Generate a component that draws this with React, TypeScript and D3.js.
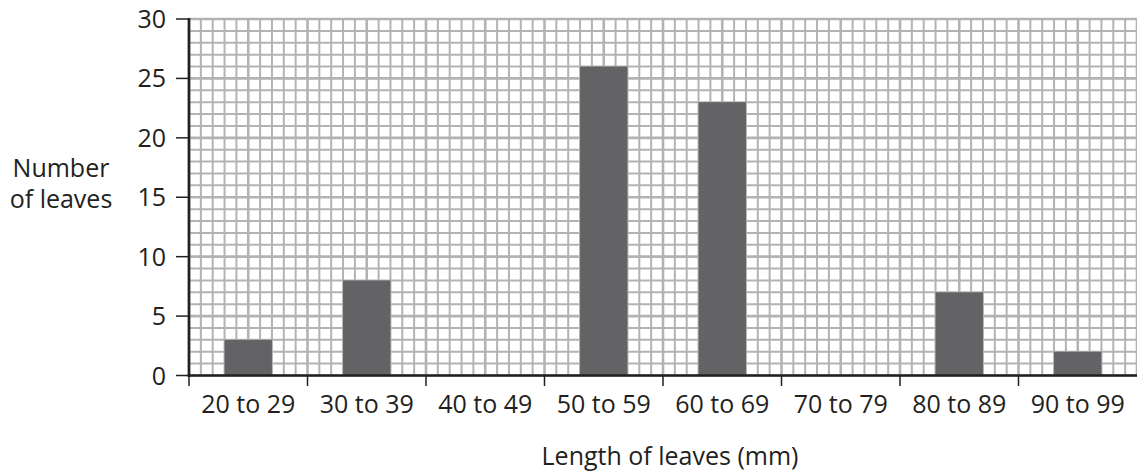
import React from "react";
import * as d3 from "d3";

const categories = ["20 to 29", "30 to 39", "40 to 49", "50 to 59", "60 to 69", "70 to 79", "80 to 89", "90 to 99"];
const values = [3, 8, 0, 26, 23, 0, 7, 2];
const yTicks = [0, 5, 10, 15, 20, 25, 30];
const xTitle = "Length of leaves (mm)";
const yTitle = ["Number", "of leaves"];

const W = 1137;
const H = 475;
const left = 189;
const right = 1137;
const top = 19;
const bottom = 375.5;
const font = "'Open Sans', 'Noto Sans', sans-serif";
const fs = 25;
const ink = "#231f20";

export default function App() {
  const x = d3.scaleBand<string>().domain(categories).range([left, right]).paddingInner(0).paddingOuter(0);
  const y = d3.scaleLinear().domain([0, 30]).range([bottom, top]);
  const bw = x.bandwidth();
  const cellsPerBand = 10;
  const nCellsX = categories.length * cellsPerBand;
  const gx = d3.scaleLinear().domain([0, nCellsX]).range([left, right]);
  const vCells = d3.range(0, nCellsX + 1);
  const hCells = d3.range(0, 31);

  return (
    <svg width={W} height={H} style={{ position: "absolute", left: 0, top: 0, display: "block", background: "#fff" }}>
      <g>
        {hCells.map((v) => (
          <line key={"h" + v} x1={left} x2={right} y1={y(v)} y2={y(v)} stroke="#b3b3b3" strokeWidth={v % 5 === 0 ? 2.6 : 2} />
        ))}
        {vCells.map((c) => (
          <line key={"v" + c} x1={gx(c)} x2={gx(c)} y1={top} y2={bottom} stroke="#b3b3b3" strokeWidth={c % 5 === 0 ? 2.6 : 2} />
        ))}
      </g>
      <g>
        {categories.map((c, i) => (
          <rect key={c} x={(x(c) as number) + bw * 0.3} width={bw * 0.4} y={y(values[i])} height={y(0) - y(values[i])} fill="#636365" />
        ))}
      </g>
      <line x1={left} x2={left} y1={top - 1} y2={bottom + 1.5} stroke={ink} strokeWidth={2.6} />
      <line x1={left - 1.3} x2={right} y1={bottom} y2={bottom} stroke={ink} strokeWidth={2.6} />
      {yTicks.map((t) => (
        <g key={"yt" + t}>
          <line x1={176} x2={left} y1={y(t)} y2={y(t)} stroke={ink} strokeWidth={1.5} />
          <text x={166} y={y(t)} dy="0.36em" textAnchor="end" fontFamily={font} fontSize={fs} fill={ink}>{t}</text>
        </g>
      ))}
      {categories.map((c, i) => (
        <g key={"xt" + c}>
          <line x1={x(c) as number} x2={x(c) as number} y1={bottom} y2={386} stroke={ink} strokeWidth={1.5} />
          <text x={(x(c) as number) + bw / 2} y={413} textAnchor="middle" fontFamily={font} fontSize={fs} fill={ink}>{c}</text>
        </g>
      ))}
      <text x={670} y={465} textAnchor="middle" fontFamily={font} fontSize={fs} fill={ink}>{xTitle}</text>
      {yTitle.map((l, i) => (
        <text key={l} x={61} y={177 + i * 31} textAnchor="middle" fontFamily={font} fontSize={fs} fill={ink}>{l}</text>
      ))}
    </svg>
  );
}
